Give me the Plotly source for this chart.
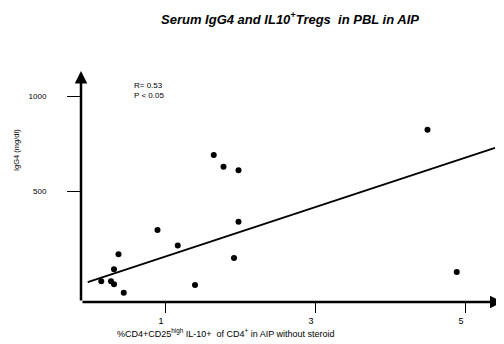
import plotly.graph_objects as go

# Data
treg_pct = [0.15, 0.28, 0.32, 0.45, 0.32, 0.38, 0.90, 1.17, 1.40, 1.65, 1.78, 1.98, 1.98, 1.92, 4.50, 4.89]
igg4 = [25, 25, 9, -35, 88, 167, 295, 214, 5, 689, 628, 609, 338, 147, 823, 74]
fit_intercept = 25
fit_slope = 130
fit_x = [-0.03, 5.4]
x_ticks = [1, 3, 5]
y_ticks = [500, 1000]

XR = [-0.12, 5.52]
YR = [-84, 1137]

OFF = 8  # browser default body margin
W, H = 504 - OFF, 344 - OFF
L, R, T, B = 81 - OFF, 0, 70 - OFF, 42
PW, PH = W - L - R, H - T - B

def px(xp):
    return (xp - OFF - L) / PW

def py(yp):
    return (H - B - (yp - OFF)) / PH

fig = go.Figure()
fig.add_trace(go.Scatter(
    x=fit_x, y=[fit_intercept + fit_slope * v for v in fit_x],
    mode="lines", line=dict(color="black", width=1.8), showlegend=False, hoverinfo="skip"))
fig.add_trace(go.Scatter(
    x=treg_pct, y=igg4, mode="markers",
    marker=dict(color="black", size=6), showlegend=False, cliponaxis=False))

font = "Liberation Sans, Arial, sans-serif"
fig.update_layout(
    width=W, height=H,
    margin=dict(l=L, r=R, t=T, b=B),
    paper_bgcolor="white", plot_bgcolor="white",
    showlegend=False,
    font=dict(family=font, color="black", size=8),
    title=dict(text="<b><i>Serum IgG4 and IL10<sup>+</sup>Tregs  in PBL in AIP</i></b>",
               xref="container", yref="container", x=(290 - OFF) / W, y=1 - (19 - OFF) / H,
               xanchor="center", yanchor="middle",
               font=dict(family=font, size=13, color="black")),
    xaxis=dict(range=XR, tickvals=x_ticks, ticktext=[str(v) for v in x_ticks],
               showgrid=False, zeroline=False, showline=False,
               ticks="outside", ticklen=10, tickwidth=1, tickcolor="black",
               ticklabelshift=-4, ticklabelstandoff=0,
               tickfont=dict(size=9, family=font)),
    yaxis=dict(range=YR, tickvals=y_ticks, ticktext=[str(v) for v in y_ticks],
               showgrid=False, zeroline=False, showline=False,
               ticks="outside", ticklen=13, tickwidth=1, tickcolor="black",
               ticklabelstandoff=19,
               tickfont=dict(size=8, family=font)),
)

# axis arrows
fig.add_annotation(x=XR[0], y=YR[1] - 5, ax=XR[0], ay=YR[0], xref="x", yref="y",
                   axref="x", ayref="y", text="", showarrow=True,
                   arrowhead=2, arrowsize=1, arrowwidth=2.5, arrowcolor="black")
fig.add_annotation(x=XR[1] - 0.02, y=YR[0], ax=XR[0], ay=YR[0], xref="x", yref="y",
                   axref="x", ayref="y", text="", showarrow=True,
                   arrowhead=2, arrowsize=1, arrowwidth=2.5, arrowcolor="black")

# stats text
fig.add_annotation(x=px(132), y=py(85), xref="paper", yref="paper",
                   text="R= 0.53", showarrow=False, xanchor="left", yanchor="middle",
                   font=dict(size=8, family=font))
fig.add_annotation(x=px(132), y=py(96), xref="paper", yref="paper",
                   text="P < 0.05", showarrow=False, xanchor="left", yanchor="middle",
                   font=dict(size=8, family=font))

# axis titles
fig.add_annotation(x=px(16), y=py(150), xref="paper", yref="paper",
                   text="IgG4 (mg/dl)", textangle=-90, showarrow=False,
                   xanchor="center", yanchor="middle", font=dict(size=7.5, family=font))
fig.add_annotation(x=px(115), y=py(333), xref="paper", yref="paper",
                   text="%CD4+CD25<sup>high</sup> IL-10+  of CD4<sup>+</sup> in AIP without steroid",
                   showarrow=False, xanchor="left", yanchor="middle",
                   font=dict(size=9, family=font))

fig.write_html("out.html")
